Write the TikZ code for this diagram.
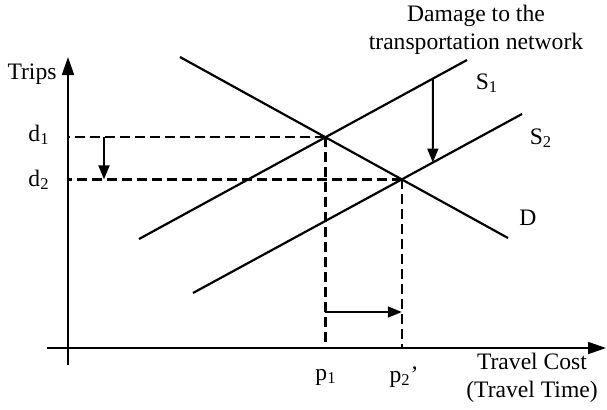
\documentclass[tikz,border=0pt]{standalone}
\usepackage{fontspec}
\setmainfont{Liberation Serif}
\usetikzlibrary{arrows.meta, intersections, calc}

\begin{document}
\begin{tikzpicture}[
        x=0.5pt, y=-0.5pt,
        curve/.style={line width=1.1pt},
        guide/.style={line width=1.1pt, dash pattern=on 5pt off 2.5pt},
        axis/.style={line width=0.9pt, -{Triangle[length=9pt,width=6pt]}},
        shiftarr/.style={line width=0.9pt, -{Triangle[length=7pt,width=5.5pt]}},
        lbl/.style={font=\fontsize{11.8}{14}\selectfont, inner sep=1pt, align=center}
    ]
    \useasboundingbox (0,0) rectangle (607,409);

    % axes
    \coordinate (ybot) at (68,365);
    \coordinate (ytop) at (68,57);
    \coordinate (xleft) at (47,348);
    \coordinate (xright) at (606,348);
    \draw[axis] (ybot) -- (ytop);
    \draw[axis] (xleft) -- (xright);

    % demand and supply curves
    \draw[curve, name path=dem] (180,57) -- (508,238) coordinate (dend);
    \draw[curve, name path=sone] (139,239) -- coordinate[pos=0.896] (sonept) (467,60) coordinate (soneend);
    \draw[curve, name path=stwo] (193,293) -- coordinate[pos=0.729] (stwopt) (522,114) coordinate (stwoend);

    \path[name intersections={of=dem and sone, by=eqone}];
    \path[name intersections={of=dem and stwo, by=eqtwo}];

    % guide lines
    \draw[guide] (eqone) -- (eqone -| ytop);
    \draw[guide] (eqtwo) -- (eqtwo -| ytop);
    \draw[guide] (eqone) -- (eqone |- xleft);
    \draw[guide] (eqtwo) -- (eqtwo |- xleft);

    % shifts
    \coordinate (done) at ($(eqone -| ytop) + (36,0)$);
    \coordinate (dtwo) at ($(eqtwo -| ytop) + (36,0)$);
    \draw[shiftarr] (done) -- (dtwo);
    \coordinate (pone) at ($(eqone |- xleft) + (0,-36)$);
    \coordinate (ptwo) at ($(eqtwo |- xleft) + (0,-36)$);
    \draw[shiftarr] (pone) -- (ptwo);
    \draw[shiftarr] (sonept) -- (stwopt);

    % labels
    \node[lbl] (trips) at (32,74) {Trips};
    \node[lbl] (dlone) at (39,135) {d\textsubscript{1}};
    \node[lbl] (dltwo) at (39,180) {d\textsubscript{2}};
    \node[lbl] (plone) at (326,377) {p\textsubscript{1}};
    \node[lbl] (pltwo) at (404,377) {p\textsubscript{2}'};
    \node[lbl] (cost) at (532,378) {Travel Cost\\(Travel Time)};
    \node[lbl] (slone) at (487,83) {S\textsubscript{1}};
    \node[lbl] (sltwo) at (541,138) {S\textsubscript{2}};
    \node[lbl] (dlab) at (528,218) {D};
    \node[lbl] (damage) at (476,30) {Damage to the\\transportation network};
\end{tikzpicture}
\end{document}
